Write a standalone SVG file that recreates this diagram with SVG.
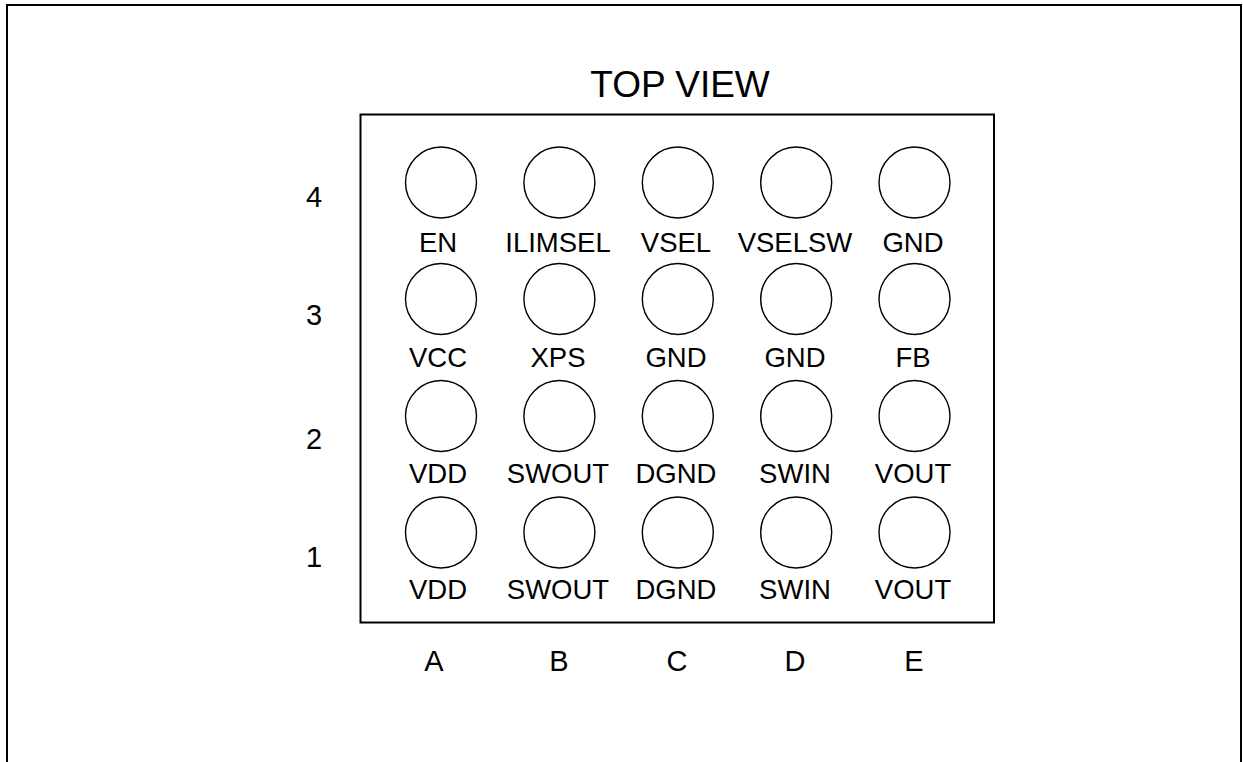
<svg xmlns="http://www.w3.org/2000/svg" width="1243" height="762" viewBox="0 0 1243 762">
<style>
.frame{fill:none;stroke:#000;stroke-width:2}
.pkg{fill:none;stroke:#000;stroke-width:2}
.ball{fill:none;stroke:#000;stroke-width:1.4}
.lbl{font-family:"Liberation Sans",Arial,sans-serif;font-size:27.5px;fill:#000;text-anchor:middle}
.idx{font-family:"Liberation Sans",Arial,sans-serif;font-size:29px;fill:#000;text-anchor:middle}
.title{font-family:"Liberation Sans",Arial,sans-serif;font-size:37px;fill:#000;text-anchor:middle}
</style>
<rect x="0" y="0" width="1243" height="762" fill="#fff"/>
<path class="frame" d="M7 762 V5 H1241 V762"/>
<text class="title" x="680" y="97">TOP VIEW</text>
<g id="package"><rect class="pkg" x="360.5" y="114.5" width="633.5" height="508"/></g>
<g id="row-labels">
<text class="idx" x="314" y="207">4</text>
<text class="idx" x="314" y="325">3</text>
<text class="idx" x="314" y="449">2</text>
<text class="idx" x="314" y="567">1</text>
</g>
<g id="col-labels">
<text class="idx" x="434" y="671">A</text>
<text class="idx" x="559" y="671">B</text>
<text class="idx" x="677" y="671">C</text>
<text class="idx" x="795" y="671">D</text>
<text class="idx" x="914" y="671">E</text>
</g>
<g id="connectors"></g>
<g id="A4"><circle class="ball" cx="441" cy="182.5" r="35.5"/><text class="lbl" x="438" y="252">EN</text></g>
<g id="B4"><circle class="ball" cx="559.4" cy="182.5" r="35.5"/><text class="lbl" x="558" y="252">ILIMSEL</text></g>
<g id="C4"><circle class="ball" cx="677.8" cy="182.5" r="35.5"/><text class="lbl" x="676" y="252">VSEL</text></g>
<g id="D4"><circle class="ball" cx="796.2" cy="182.5" r="35.5"/><text class="lbl" x="795" y="252">VSELSW</text></g>
<g id="E4"><circle class="ball" cx="914.5" cy="182.5" r="35.5"/><text class="lbl" x="913" y="252">GND</text></g>
<g id="A3"><circle class="ball" cx="441" cy="299" r="35.5"/><text class="lbl" x="438" y="367">VCC</text></g>
<g id="B3"><circle class="ball" cx="559.4" cy="299" r="35.5"/><text class="lbl" x="558" y="367">XPS</text></g>
<g id="C3"><circle class="ball" cx="677.8" cy="299" r="35.5"/><text class="lbl" x="676" y="367">GND</text></g>
<g id="D3"><circle class="ball" cx="796.2" cy="299" r="35.5"/><text class="lbl" x="795" y="367">GND</text></g>
<g id="E3"><circle class="ball" cx="914.5" cy="299" r="35.5"/><text class="lbl" x="913" y="367">FB</text></g>
<g id="A2"><circle class="ball" cx="441" cy="416" r="35.5"/><text class="lbl" x="438" y="483">VDD</text></g>
<g id="B2"><circle class="ball" cx="559.4" cy="416" r="35.5"/><text class="lbl" x="558" y="483">SWOUT</text></g>
<g id="C2"><circle class="ball" cx="677.8" cy="416" r="35.5"/><text class="lbl" x="676" y="483">DGND</text></g>
<g id="D2"><circle class="ball" cx="796.2" cy="416" r="35.5"/><text class="lbl" x="795" y="483">SWIN</text></g>
<g id="E2"><circle class="ball" cx="914.5" cy="416" r="35.5"/><text class="lbl" x="913" y="483">VOUT</text></g>
<g id="A1"><circle class="ball" cx="441" cy="532.5" r="35.5"/><text class="lbl" x="438" y="599">VDD</text></g>
<g id="B1"><circle class="ball" cx="559.4" cy="532.5" r="35.5"/><text class="lbl" x="558" y="599">SWOUT</text></g>
<g id="C1"><circle class="ball" cx="677.8" cy="532.5" r="35.5"/><text class="lbl" x="676" y="599">DGND</text></g>
<g id="D1"><circle class="ball" cx="796.2" cy="532.5" r="35.5"/><text class="lbl" x="795" y="599">SWIN</text></g>
<g id="E1"><circle class="ball" cx="914.5" cy="532.5" r="35.5"/><text class="lbl" x="913" y="599">VOUT</text></g>
</svg>
